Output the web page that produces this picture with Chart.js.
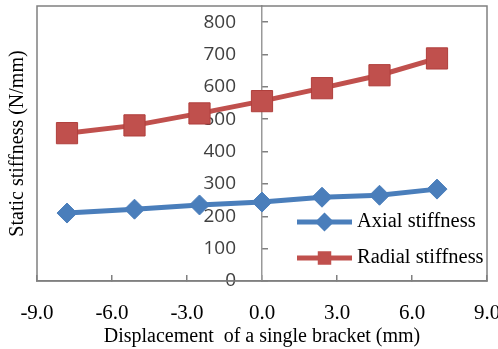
<!DOCTYPE html>
<html>
<head>
    <title>Static stiffness</title>
    <script src="https://cdn.jsdelivr.net/npm/chart.js"></script>
    <style>
        body { margin: 0; background: #fff; }
    </style>
</head>
<body>
    <div style="width: 498px; height: 349px;">
        <canvas id="stiffnessChart"></canvas>
    </div>
    <script>
        // values
        const displacement = [-7.8, -5.1, -2.5, 0.0, 2.4, 4.7, 7.0];
        const axialStiffness = [210, 222, 235, 244, 259, 265, 284];
        const radialStiffness = [457, 481, 518, 556, 596, 636, 688];
        const xTicks = [-9, -6, -3, 0, 3, 6, 9];
        const yTicks = [0, 100, 200, 300, 400, 500, 600, 700, 800];

        const blue = '#4A7EBB';
        const red = '#C0504D';

        const framePlugin = {
            id: 'frame',
            beforeDatasetsDraw(chart) {
                const { ctx, chartArea: a } = chart;
                ctx.save();
                ctx.strokeStyle = '#808080';
                ctx.lineWidth = 1.5;
                ctx.strokeRect(a.left, a.top, a.right - a.left, a.bottom - a.top);
                ctx.restore();
            }
        };

        // y labels of the centred axis sit a little away from the axis line
        const yLabelGap = {
            id: 'yLabelGap',
            beforeDraw(chart) {
                chart.scales.y.getLabelItems().forEach(function (item) {
                    if (!item._moved) {
                        item.options.translation[0] -= 26;
                        item._moved = true;
                    }
                });
            }
        };

        // legend sits inside the plot, lower right
        const legendPlugin = {
            id: 'innerLegend',
            afterDraw(chart) {
                const { ctx, chartArea: a } = chart;
                const x0 = a.right - 190, x1 = a.right - 135;
                const rows = [a.bottom - 59, a.bottom - 23];
                ctx.save();
                chart.data.datasets.forEach(function (ds, i) {
                    const y = rows[i];
                    ctx.strokeStyle = ds.borderColor;
                    ctx.lineWidth = 5;
                    ctx.beginPath();
                    ctx.moveTo(x0, y);
                    ctx.lineTo(x1, y);
                    ctx.stroke();
                    Chart.helpers.drawPoint(ctx, {
                        pointStyle: ds.pointStyle,
                        radius: 6,
                        borderWidth: 1
                    }, (x0 + x1) / 2, y);
                    ctx.fillStyle = ds.backgroundColor;
                    ctx.fill();
                    ctx.fillStyle = '#000';
                    ctx.font = '20.5px "Liberation Serif"';
                    ctx.textBaseline = 'middle';
                    ctx.fillText(ds.label, x1 + 5, y);
                });
                ctx.restore();
            }
        };

        new Chart(document.getElementById('stiffnessChart'), {
            type: 'line',
            data: {
                datasets: [
                    {
                        label: 'Axial stiffness',
                        data: displacement.map((x, i) => ({ x: x, y: axialStiffness[i] })),
                        borderColor: blue,
                        backgroundColor: blue,
                        borderWidth: 5,
                        pointStyle: 'rectRot',
                        pointRadius: 10,
                        pointBorderWidth: 1,
                        yAxisID: 'y'
                    },
                    {
                        label: 'Radial stiffness',
                        data: displacement.map((x, i) => ({ x: x, y: radialStiffness[i] })),
                        borderColor: red,
                        backgroundColor: red,
                        pointBorderColor: '#B03F3C',
                        borderWidth: 5,
                        pointStyle: 'rect',
                        pointRadius: 15,
                        pointBorderWidth: 1,
                        yAxisID: 'y'
                    }
                ]
            },
            options: {
                responsive: true,
                maintainAspectRatio: false,
                animation: false,
                layout: { autoPadding: false, padding: { left: 2, right: 0, top: 6, bottom: 0 } },
                plugins: {
                    legend: { display: false },
                    tooltip: { enabled: false }
                },
                scales: {
                    x: {
                        type: 'linear',
                        min: -9,
                        max: 9,
                        afterBuildTicks: axis => { axis.ticks = xTicks.map(v => ({ value: v })); },
                        afterFit: axis => {
                            axis.paddingRight = 11;
                            axis.paddingLeft = 0;
                            axis.height = 68;
                        },
                        grid: { drawOnChartArea: false, tickLength: -6, color: '#808080', lineWidth: 1.5 },
                        border: { color: '#808080', width: 1.5 },
                        ticks: {
                            padding: 26,
                            color: '#000',
                            font: { family: '"Liberation Serif"', size: 21 },
                            callback: v => v.toFixed(1)
                        },
                        title: {
                            display: true,
                            text: 'Displacement  of a single bracket (mm)',
                            color: '#000',
                            font: { family: '"Liberation Serif"', size: 20 },
                            padding: { top: 1, bottom: 0 }
                        }
                    },
                    y: {
                        type: 'linear',
                        position: { x: 0 },
                        min: 0,
                        max: 850,
                        afterBuildTicks: axis => { axis.ticks = yTicks.map(v => ({ value: v })); },
                        afterFit: axis => {
                            axis.paddingTop = 0;
                            axis.paddingBottom = 0;
                        },
                        grid: { drawOnChartArea: false, tickLength: -7, color: '#808080', lineWidth: 1.5 },
                        border: { color: '#999', width: 1.5 },
                        ticks: {
                            color: '#404040',
                            font: { family: '"Open Sans"', size: 19 }
                        }
                    },
                    yTitle: {
                        type: 'linear',
                        position: 'left',
                        display: true,
                        afterFit: axis => {
                            axis.paddingTop = 0;
                            axis.paddingBottom = 0;
                        },
                        grid: { display: false, drawTicks: false },
                        border: { display: false },
                        ticks: { display: false },
                        title: {
                            display: true,
                            text: 'Static stiffness (N/mm)',
                            color: '#000',
                            font: { family: '"Liberation Serif"', size: 20 },
                            padding: { top: 4, bottom: 7 }
                        }
                    }
                }
            },
            plugins: [framePlugin, yLabelGap, legendPlugin]
        });
    </script>
</body>
</html>
